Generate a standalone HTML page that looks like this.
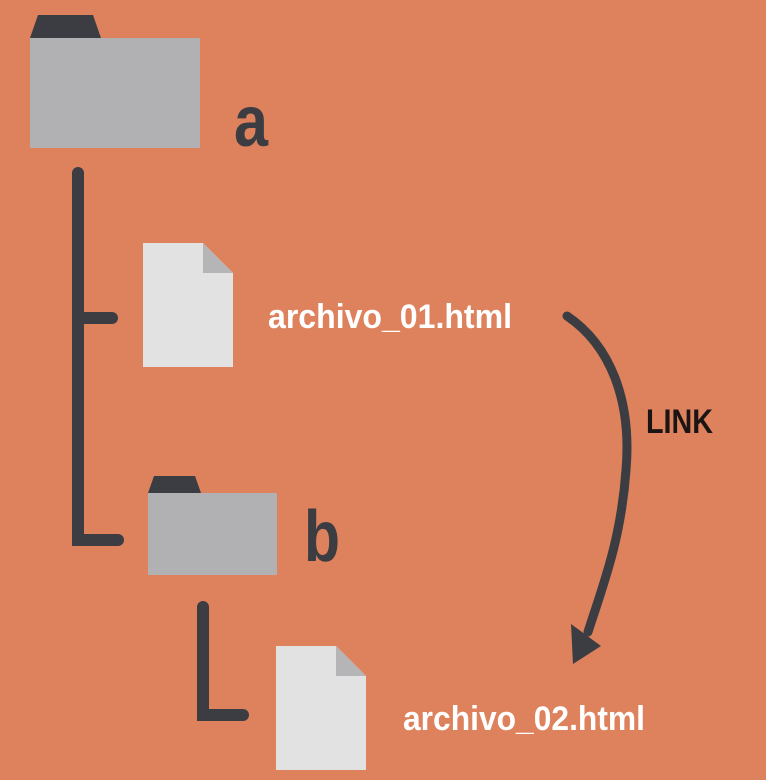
<!DOCTYPE html>
<html><head><meta charset="utf-8"><style>
html,body{margin:0;padding:0;background:#DD825D;}
svg{display:block}
text{font-family:"Liberation Sans Narrow","Liberation Sans",sans-serif;font-weight:bold}
</style></head><body>
<svg width="766" height="780" viewBox="0 0 766 780">
<rect width="766" height="780" fill="#DD825D"/>
<g>
<path d="M30,38 L38,15 L93,15 L101,38 Z" fill="#3b3d42"/>
<rect x="30" y="38" width="170" height="110" fill="#b1b1b3"/>
</g>
<text x="234" y="146" font-size="72" fill="#3b3d42" textLength="34" lengthAdjust="spacingAndGlyphs">a</text>
<g stroke="#3b3d42" stroke-width="12" stroke-linecap="round" fill="none">
<path d="M78,173 L78,540 L118,540"/>
<path d="M78,318 L112,318"/>
</g>
<g>
<path d="M143,243 L203,243 L233,273 L233,367 L143,367 Z" fill="#e2e2e2"/>
<path d="M203,243 L233,273 L203,273 Z" fill="#b5b5b7"/>
</g>
<text x="268" y="328" font-size="34" fill="#ffffff" textLength="244" lengthAdjust="spacingAndGlyphs">archivo_01.html</text>
<g>
<path d="M148,493 L154,476 L195,476 L201,493 Z" fill="#3b3d42"/>
<rect x="148" y="493" width="129" height="82" fill="#b1b1b3"/>
</g>
<text x="304" y="561" font-size="72" fill="#3b3d42" textLength="36" lengthAdjust="spacingAndGlyphs">b</text>
<path d="M203,607 L203,715 L243,715" stroke="#3b3d42" stroke-width="12" stroke-linecap="round" fill="none"/>
<g>
<path d="M276,646 L336,646 L366,676 L366,770 L276,770 Z" fill="#e2e2e2"/>
<path d="M336,646 L366,676 L336,676 Z" fill="#b5b5b7"/>
</g>
<text x="403" y="730" font-size="34" fill="#ffffff" textLength="242" lengthAdjust="spacingAndGlyphs">archivo_02.html</text>
<g>
<path d="M567,316 C610,345 632,400 626,470 C621,540 603,585 588,632" stroke="#3b3d42" stroke-width="9" stroke-linecap="round" fill="none"/>
<path d="M573,664 L571,624 L601,646 Z" fill="#3b3d42"/>
</g>
<text x="646" y="433" font-size="34" fill="#1a1414" textLength="67" lengthAdjust="spacingAndGlyphs">LINK</text>
</svg>
</body></html>
